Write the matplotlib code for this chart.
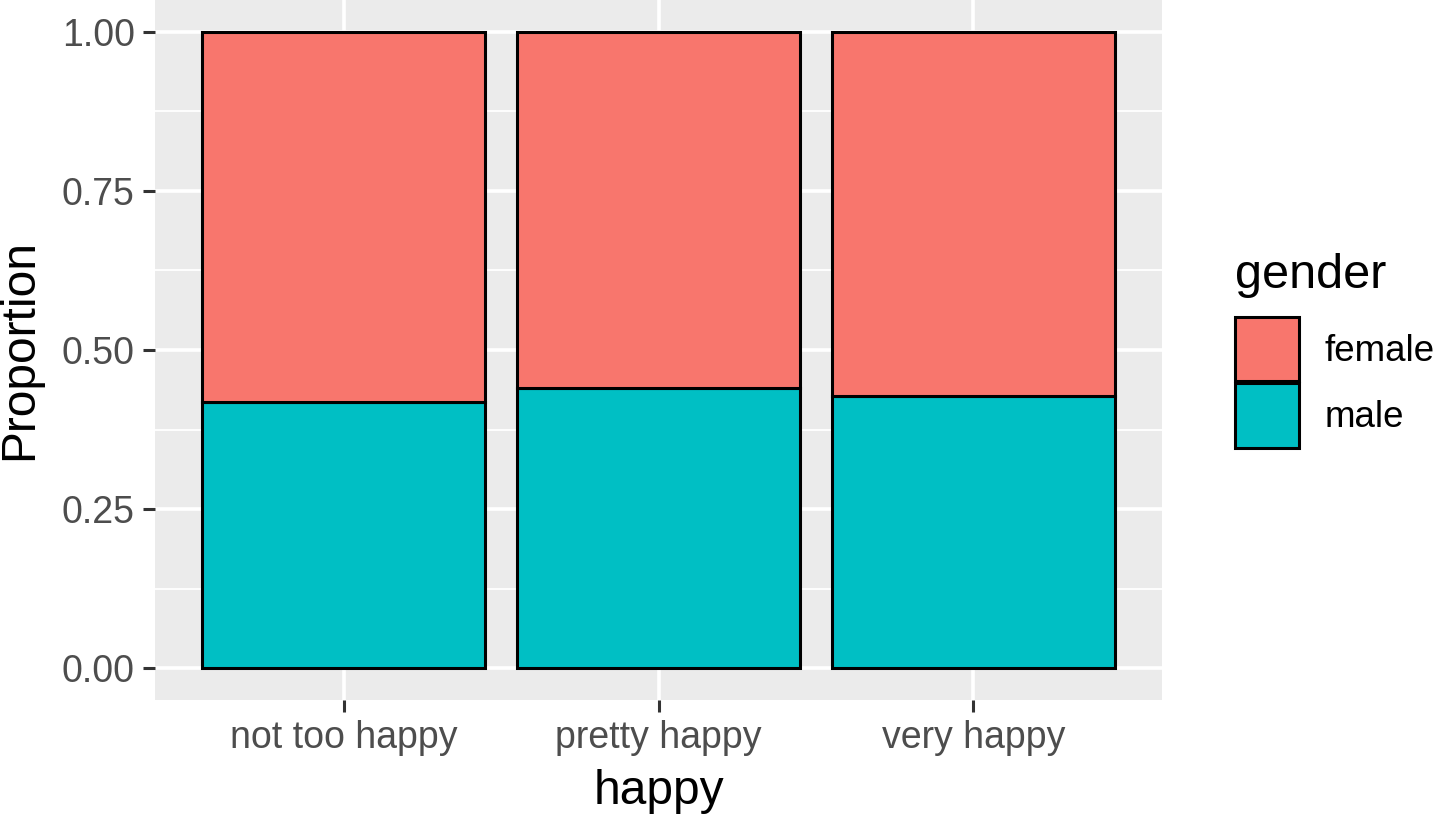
import numpy as np
import matplotlib
matplotlib.use('Agg')
from matplotlib import pyplot as plt
from matplotlib.patches import Patch

plt.rcParams['font.family'] = ['Liberation Sans', 'DejaVu Sans']

happy = ['not too happy', 'pretty happy', 'very happy']
male = [0.418, 0.440, 0.427]
female = [1 - m for m in male]
genders = ['female', 'male']
colors = {'female': '#F8766D', 'male': '#00BFC4'}

fig = plt.figure(figsize=(14.41, 8.16), dpi=100)
ax = fig.add_axes([155 / 1441, 116 / 816, 1007 / 1441, 700 / 816])
ax.set_facecolor('#EBEBEB')
for s in ax.spines.values():
    s.set_visible(False)

x = np.arange(1, len(happy) + 1)
ax.bar(x, male, width=0.9, color=colors['male'], edgecolor='black', linewidth=2.2, zorder=3)
ax.bar(x, female, width=0.9, bottom=male, color=colors['female'], edgecolor='black', linewidth=2.2, zorder=3)

ax.set_xlim(0.4, 3.6)
ax.set_ylim(-0.05, 1.05)
ax.set_xticks(x)
ax.set_xticklabels(happy)
ax.set_yticks([0, 0.25, 0.5, 0.75, 1.0])
ax.set_yticklabels(['0.00', '0.25', '0.50', '0.75', '1.00'])
ax.set_yticks([0.125, 0.375, 0.625, 0.875], minor=True)
ax.grid(which='major', color='white', linewidth=2.6, zorder=0)
ax.grid(which='minor', axis='y', color='white', linewidth=1.3, zorder=0)
ax.set_axisbelow(True)
ax.tick_params(which='major', length=8.5, width=2.2, color='#333333',
               labelsize=27, labelcolor='#4D4D4D', pad=6)
ax.tick_params(which='minor', length=0)

ax.set_xlabel('happy', fontsize=34.5, labelpad=9)
ax.set_ylabel('Proportion', fontsize=34.5, labelpad=14)

handles = [Patch(facecolor=colors[g], edgecolor='black', linewidth=2.2, label=g) for g in genders]
leg = fig.legend(handles=handles, title='gender', loc='upper left',
                 bbox_to_anchor=(1209 / 1441, 1 - 227 / 816),
                 frameon=False, fontsize=26.5, title_fontsize=35,
                 handlelength=1.75, handleheight=2.3, labelspacing=0.06,
                 handletextpad=0.7, borderpad=0.2)
leg._legend_box.align = 'left'
leg._legend_box.sep = 14

fig.savefig('out.png', dpi=100)
